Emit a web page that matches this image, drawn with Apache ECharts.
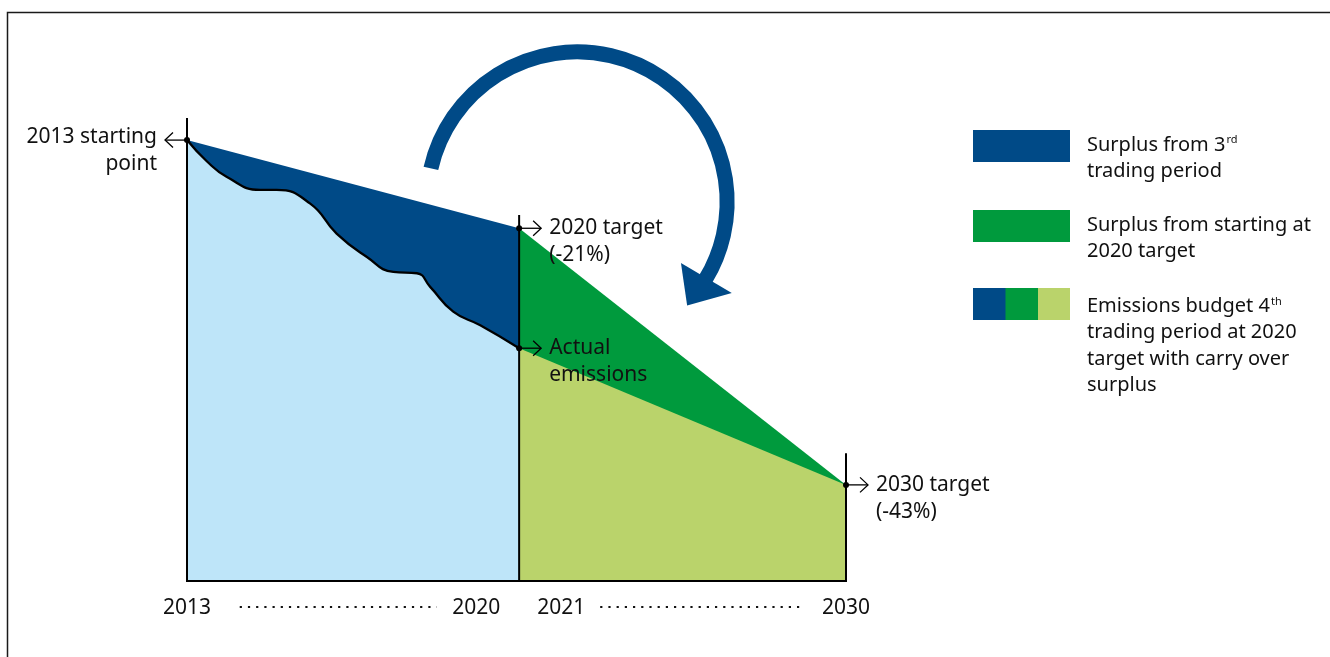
<!DOCTYPE html>
<html><head><meta charset="utf-8">
<script src="https://cdn.jsdelivr.net/npm/echarts@6/dist/echarts.min.js"></script>
<style>html,body{margin:0;padding:0;background:#fff}#c{width:1330px;height:657px}</style>
</head><body><div id="c"></div>
<script>
// x: position along the two trading periods (0 = 2013, 50.4 = 2020/2021 boundary, 100 = 2030)
// y: emissions index (2013 starting point = 100)
const startPoint = [0, 100];
const target2020 = [50.4, 80.0];
const actual2020 = [50.4, 52.8];
const target2030 = [100, 21.8];
const actualEmissions = [[0,100],[3.0,95.2],[6.0,91.7],[11.1,88.7],[13.6,88.7],[18.7,85.6],[22.7,78.8],[27.3,73.5],[31.3,70.1],[34.9,69.8],[36.9,66.7],[40.4,61.1],[44.5,58.0],[50.4,52.8]];
const targetPath3 = [startPoint, target2020];
const targetPath4 = [target2020, target2030];
const actualPath4 = [actual2020, target2030];
const periodLines = [[0, 105], [50.4, 83.0], [100, 29.0]];
const tickPositions = [0, 43.9, 56.8, 100];
const tickLabels = ['2013', '2020', '2021', '2030'];
const leaderLines = [[8.0, 37.9], [62.7, 93.0]];
const leaderY = -5.9;
const calloutPoints = [startPoint, target2020, actual2020, target2030];
const calloutLabels = ['2013 starting\npoint', '2020 target\n(-21%)', 'Actual\nemissions', '2030 target\n(-43%)'];
const calloutSides = [-1, 1, 1, 1];
const carryArrowCenter = [[59.2, 86.0]];

const FONT = 'Noto Sans';
const C_DARK = '#004a87', C_GREEN = '#009a3d', C_LGREEN = '#bad36b', C_LBLUE = '#bee5f9';

const chart = echarts.init(document.getElementById('c'), null, {renderer: 'canvas'});

function areaSeries(name, data, color, line, smooth) {
  return {
    name, type: 'line', data, smooth: smooth || false, showSymbol: false, silent: true, z: 2,
    lineStyle: line ? {color: '#000', width: 2.3} : {width: 0, opacity: 0},
    areaStyle: {color, opacity: 1, origin: 'start'}, clip: false
  };
}

const option = {
  animation: false,
  backgroundColor: '#fff',
  textStyle: {fontFamily: FONT},
  grid: {left: 187, right: 484, top: 96, bottom: 76, outerBoundsMode: 'none', containLabel: false},
  xAxis: {
    type: 'value', min: 0, max: 100, z: 10,
    splitLine: {show: false}, axisTick: {show: false},
    axisLine: {show: true, lineStyle: {color: '#000', width: 2}},
    axisLabel: {
      customValues: tickPositions, margin: 17, fontSize: 21, color: '#111', fontFamily: FONT,
      formatter: v => { const i = tickPositions.findIndex(p => Math.abs(p - v) < 1e-6); return i >= 0 ? tickLabels[i] : ''; }
    }
  },
  yAxis: {type: 'value', min: 0, max: 110, show: false, splitLine: {show: false}},
  series: [
    areaSeries('Surplus 3rd period', targetPath3, C_DARK, false),
    areaSeries('Actual emissions', actualEmissions, C_LBLUE, true, 0.5),
    areaSeries('Surplus from 2020 target', targetPath4, C_GREEN, false),
    areaSeries('Budget 4th period', actualPath4, C_LGREEN, false),
    {
      name: 'period lines', type: 'custom', silent: true, clip: false, data: periodLines, z: 8,
      renderItem: (params, api) => {
        const x = api.value(0), top = api.value(1);
        const p0 = api.coord([x, 0]), p1 = api.coord([x, top]);
        return {type: 'line', shape: {x1: p0[0], y1: p0[1] + 1, x2: p1[0], y2: p1[1]}, style: {stroke: '#000', lineWidth: 2}};
      }
    },
    {
      name: 'leaders', type: 'custom', silent: true, clip: false, data: leaderLines, z: 8,
      renderItem: (params, api) => {
        const p0 = api.coord([api.value(0), leaderY]), p1 = api.coord([api.value(1), leaderY]);
        return {type: 'line', shape: {x1: p0[0], y1: p0[1], x2: p1[0], y2: p1[1]}, style: {stroke: '#111', lineWidth: 2.2, lineDash: [2.2, 6]}};
      }
    },
    {
      name: 'callouts', type: 'custom', silent: true, clip: false, data: calloutPoints, z: 9,
      renderItem: (params, api) => {
        const i = params.dataIndex, side = calloutSides[i];
        const p = api.coord([api.value(0), api.value(1)]);
        const ex = p[0] + side * 22;
        return {
          type: 'group', children: [
            {type: 'line', shape: {x1: p[0], y1: p[1], x2: ex, y2: p[1]}, style: {stroke: '#000', lineWidth: 1.3}},
            {type: 'polyline', shape: {points: [[ex - side * 8, p[1] - 7.5], [ex, p[1]], [ex - side * 8, p[1] + 7.5]]}, style: {stroke: '#000', lineWidth: 1.3, fill: 'none'}},
            {type: 'circle', shape: {cx: p[0], cy: p[1], r: 3}, style: {fill: '#000'}},
            {type: 'text', x: p[0] + side * 30, y: p[1] - 13.3 - (side < 0 ? 3 : 0),
              style: {text: calloutLabels[i], fontFamily: FONT, fontSize: 21, lineHeight: 26.7, fill: '#111',
                align: side < 0 ? 'right' : 'left', verticalAlign: 'top'}}
          ]
        };
      }
    },
    {
      name: 'carry over', type: 'custom', silent: true, clip: false, data: carryArrowCenter, z: 9,
      renderItem: (params, api) => {
        const c = api.coord([api.value(0), api.value(1)]);
        const r = 150, a0 = 192.9 * Math.PI / 180, a1 = 30.5 * Math.PI / 180;
        const n = [Math.cos(a1), Math.sin(a1)], t = [-Math.sin(a1), Math.cos(a1)];
        const b = [c[0] + r * n[0], c[1] + r * n[1]];
        const hw = 29.5, len = 32;
        return {
          type: 'group', children: [
            {type: 'arc', shape: {cx: c[0], cy: c[1], r, startAngle: a0, endAngle: a1 + 0.01, clockwise: true},
              style: {stroke: C_DARK, lineWidth: 15, fill: 'none'}},
            {type: 'polygon', shape: {points: [[b[0] - hw * n[0], b[1] - hw * n[1]], [b[0] + hw * n[0], b[1] + hw * n[1]], [b[0] + len * t[0] - 3, b[1] + len * t[1]]]},
              style: {fill: C_DARK}}
          ]
        };
      }
    }
  ],
  graphic: [
    {type: 'rect', silent: true, shape: {x: 7.5, y: 12.5, width: 1400, height: 700}, style: {fill: 'none', stroke: '#1a1a1a', lineWidth: 1.5}},
    {type: 'rect', silent: true, shape: {x: 973, y: 130, width: 97, height: 32}, style: {fill: C_DARK}},
    {type: 'rect', silent: true, shape: {x: 973, y: 210, width: 97, height: 32}, style: {fill: C_GREEN}},
    {type: 'rect', silent: true, shape: {x: 973, y: 288, width: 33, height: 32}, style: {fill: C_DARK}},
    {type: 'rect', silent: true, shape: {x: 1005.5, y: 288, width: 33, height: 32}, style: {fill: C_GREEN}},
    {type: 'rect', silent: true, shape: {x: 1038, y: 288, width: 32, height: 32}, style: {fill: C_LGREEN}},
    {type: 'text', silent: true, x: 1087, y: 131.7, style: {
      text: '{t|Surplus from 3}{s|rd}\n{t|trading period}', verticalAlign: 'top', fill: '#111',
      rich: {t: {fontFamily: FONT, fontSize: 20, lineHeight: 26.7, fill: '#111'}, s: {fontFamily: FONT, fontSize: 11, lineHeight: 26.7, padding: [0, 0, 10, 1], fill: '#111'}}}},
    {type: 'text', silent: true, x: 1087, y: 211.7, style: {
      text: 'Surplus from starting at\n2020 target', verticalAlign: 'top', fill: '#111',
      fontFamily: FONT, fontSize: 20, lineHeight: 26.7}},
    {type: 'text', silent: true, x: 1087, y: 293.3, style: {
      text: '{t|Emissions budget 4}{s|th}\n{t|trading period at 2020}\n{t|target with carry over}\n{t|surplus}', verticalAlign: 'top', fill: '#111',
      rich: {t: {fontFamily: FONT, fontSize: 20, lineHeight: 26.3, fill: '#111'}, s: {fontFamily: FONT, fontSize: 11, lineHeight: 26.3, padding: [0, 0, 10, 1], fill: '#111'}}}}
  ]
};
chart.setOption(option);
</script></body></html>
